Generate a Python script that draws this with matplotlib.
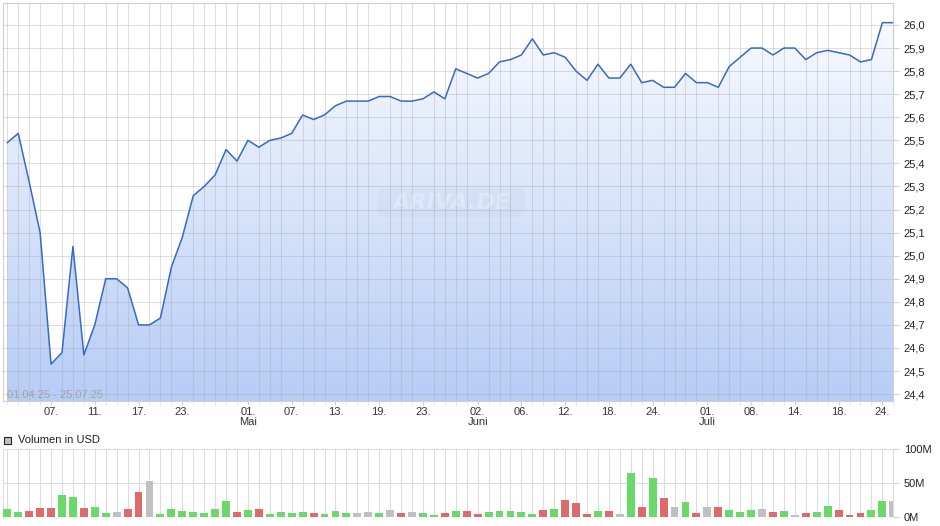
import numpy as np
import matplotlib.pyplot as plt
import matplotlib.colors as mcolors
from matplotlib.patches import FancyBboxPatch, Rectangle

plt.rcParams['font.family'] = ['Liberation Sans', 'DejaVu Sans']

# Schlusskurse je Handelstag (01.04.25 - 25.07.25)
kurs = [25.49, 25.53, 25.32, 25.10, 24.53, 24.58, 25.04, 24.57, 24.70, 24.90,
        24.90, 24.86, 24.70, 24.70, 24.73, 24.95, 25.08, 25.26, 25.30, 25.35,
        25.46, 25.41, 25.50, 25.47, 25.50, 25.51, 25.53, 25.61, 25.59, 25.61,
        25.65, 25.67, 25.67, 25.67, 25.69, 25.69, 25.67, 25.67, 25.68, 25.71,
        25.68, 25.81, 25.79, 25.77, 25.79, 25.84, 25.85, 25.87, 25.94, 25.87,
        25.88, 25.86, 25.80, 25.76, 25.83, 25.77, 25.77, 25.83, 25.75, 25.76,
        25.73, 25.73, 25.79, 25.75, 25.75, 25.73, 25.82, 25.86, 25.90, 25.90,
        25.87, 25.90, 25.90, 25.85, 25.88, 25.89, 25.88, 25.87, 25.84, 25.85,
        26.01, 26.01]

# Volumen in Mio. USD
volumen = [11, 7.4, 9, 13, 13, 32, 29, 13, 14, 5.4,
           7.4, 11, 37, 53, 4, 11, 8.4, 7.4, 5.4, 11,
           23, 7.4, 10, 11, 4, 7.4, 5.4, 7.4, 5.4, 4,
           8.4, 5.4, 5.4, 7.4, 5.4, 10, 5.4, 7.4, 5.4, 2.5,
           5.4, 8.4, 8.4, 4, 7, 8.4, 8.4, 7, 4, 10,
           11, 25, 20, 4, 8.4, 8.4, 4, 65, 14, 57,
           28, 14, 22, 5.4, 14, 14, 10, 7, 10, 11,
           7, 8.4, 2.5, 5.4, 7, 16, 10, 2.5, 5.4, 10,
           23, 23]
# g = steigend, r = fallend, n = unveraendert
vol_farbe = ["g", "g", "r", "r", "r", "g", "g", "r", "g", "g",
             "n", "r", "r", "n", "g", "g", "g", "g", "g", "g",
             "g", "r", "g", "r", "g", "g", "g", "g", "r", "g",
             "g", "g", "n", "n", "g", "n", "r", "n", "g", "g",
             "r", "g", "r", "r", "g", "g", "g", "g", "g", "r",
             "g", "r", "r", "r", "g", "r", "n", "g", "r", "g",
             "r", "n", "g", "r", "n", "r", "g", "g", "g", "n",
             "r", "g", "n", "r", "g", "g", "r", "r", "r", "g",
             "g", "n"]

tick_pos = [4, 8, 12, 16, 22, 26, 30, 34, 38, 43, 47, 51, 55, 59, 64, 68, 72, 76, 80]
tick_lbl = ["07.", "11.", "17.", "23.", "01.\nMai", "07.", "13.", "19.", "23.",
            "02.\nJuni", "06.", "12.", "18.", "24.", "01.\nJuli", "08.", "14.", "18.", "24."]
kurs_ticks = [24.4, 24.5, 24.6, 24.7, 24.8, 24.9, 25.0, 25.1, 25.2, 25.3,
              25.4, 25.5, 25.6, 25.7, 25.8, 25.9, 26.0]
vol_ticks = [0, 50, 100]

farben = {"g": "#6ad96a", "r": "#dd6b6b", "n": "#c0c0c0"}
rahmen = "#d0d0d0"

W, H = 940, 526
fig = plt.figure(figsize=(W / 100, H / 100), dpi=100)

# --- Kurs-Chart ---
ax = fig.add_axes([2.7 / W, 1 - 401 / H, 890.6 / W, 397.7 / H])
x = np.arange(len(kurs))
xmin, xmax = -0.42, len(kurs) - 1
ymin, ymax = 24.37, 26.094
ax.set_xlim(xmin, xmax)
ax.set_ylim(ymin, ymax)

# Verlauf unter der Linie
cmap = mcolors.LinearSegmentedColormap.from_list("fl", ["#fbfcff", "#b6cdf6"])
grad = np.linspace(0, 1, 256).reshape(-1, 1)
im = ax.imshow(grad, extent=[xmin, xmax, ymin, ymax], origin="upper",
               aspect="auto", cmap=cmap, zorder=1)
poly = ax.fill_between(x, kurs, ymin, color="none", lw=0)
im.set_clip_path(poly.get_paths()[0], transform=ax.transData)
ax.plot(x, kurs, color="#3769c6", lw=1.1, zorder=3)

ax.set_axisbelow(False)
ax.set_xticks(tick_pos)
ax.set_xticklabels(tick_lbl, linespacing=1.1)
ax.set_xticks(x, minor=True)
ax.xaxis.grid(True, which="minor", color="#a8a8a8", alpha=0.36, lw=0.75)
ax.yaxis.grid(True, which="major", color="#a8a8a8", alpha=0.36, lw=0.75)
ax.set_yticks(kurs_ticks)
ax.set_yticklabels([f"{v:.1f}".replace(".", ",") for v in kurs_ticks])
ax.yaxis.tick_right()
ax.tick_params(axis="y", length=4.5, color=rahmen, pad=3, labelsize=8, labelcolor="#222222")
ax.tick_params(axis="x", which="major", length=3, color=rahmen, pad=1,
               labelsize=8, labelcolor="#333333")
ax.tick_params(axis="x", which="minor", length=3, color="#e2e2e2")
for s in ax.spines.values():
    s.set_color(rahmen)
    s.set_linewidth(0.8)

ax.text(0.0052, 0.014, "01.04.25 - 25.07.25", transform=ax.transAxes,
        ha="left", va="center", fontsize=8, color="#a3a3a3", zorder=4)

# Wasserzeichen
fig.add_artist(FancyBboxPatch((377 / W, 1 - 217 / H), 148 / W, 29 / H,
                              boxstyle="round,pad=0,rounding_size=0.012",
                              transform=fig.transFigure, facecolor="#6080a0",
                              alpha=0.045, edgecolor="none"))
fig.text(452 / W, 1 - 203 / H, "ARIVA.DE", ha="center", va="center",
         fontsize=16, fontweight="bold", style="italic", color="white",
         alpha=0.3, family="DejaVu Sans")

# --- Volumen ---
ax2 = fig.add_axes([2.7 / W, 1 - 516.7 / H, 890.6 / W, 67.4 / H])
ax2.bar(x, volumen, width=0.72, color=[farben[c] for c in vol_farbe], zorder=3)
ax2.set_xlim(xmin, xmax)
ax2.set_ylim(0, 100)
ax2.set_xticks(x)
ax2.tick_params(axis="x", length=0, labelbottom=False)
ax2.xaxis.grid(True, color="#dcdcdc", lw=0.75)
ax2.yaxis.grid(True, color="#dcdcdc", lw=0.75)
ax2.set_axisbelow(True)
ax2.set_yticks(vol_ticks)
ax2.set_yticklabels([f"{v}M" for v in vol_ticks])
ax2.yaxis.tick_right()
ax2.tick_params(axis="y", length=4.5, color=rahmen, pad=3, labelsize=8, labelcolor="#222222")
for s in ax2.spines.values():
    s.set_color("#dcdcdc")
    s.set_linewidth(0.8)
ax2.spines["bottom"].set_visible(False)

# Legende
fig.add_artist(Rectangle((3.5 / W, 1 - 443.5 / H), 7 / W, 7 / H, transform=fig.transFigure,
                         facecolor="#c0c0c0", edgecolor="#222222", lw=0.8))
fig.text(18.3 / W, 1 - 440 / H, "Volumen in USD", ha="left", va="center",
         fontsize=8, color="#222222")

fig.savefig("out.png", dpi=100)
